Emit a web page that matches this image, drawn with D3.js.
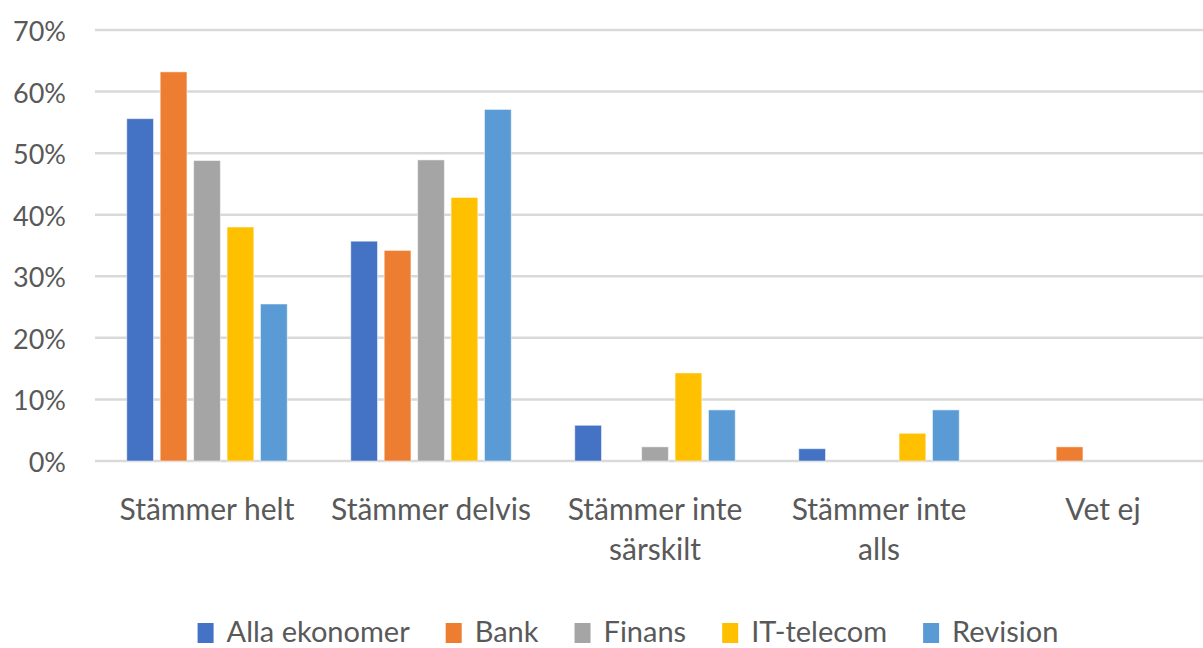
<!DOCTYPE html>
<html>
<head>
<meta charset="utf-8">
<script src="https://cdn.jsdelivr.net/npm/d3@7"></script>
<style>
  html, body { margin: 0; padding: 0; background: #fff; }
  svg { display: block; font-family: Lato, "Open Sans", sans-serif; }
</style>
</head>
<body>
<svg id="chart"></svg>
<script>
// Categories, series and values
const categories = [['Stämmer helt'], ['Stämmer delvis'], ['Stämmer inte', 'särskilt'], ['Stämmer inte', 'alls'], ['Vet ej']];
const seriesNames = ['Alla ekonomer', 'Bank', 'Finans', 'IT-telecom', 'Revision'];
const allaEkonomer = [0.556, 0.357, 0.058, 0.020, 0];
const bank = [0.632, 0.342, 0, 0, 0.023];
const finans = [0.488, 0.489, 0.023, 0, 0];
const itTelecom = [0.380, 0.428, 0.143, 0.045, 0];
const revision = [0.255, 0.571, 0.083, 0.083, 0];
const yTicks = [0, 0.1, 0.2, 0.3, 0.4, 0.5, 0.6, 0.7];

const seriesValues = [allaEkonomer, bank, finans, itTelecom, revision];
const colors = ['#4472C4', '#ED7D31', '#A5A5A5', '#FFC000', '#5B9BD5'];

const WIDTH = 1203, HEIGHT = 648;
const margin = { left: 95, right: -12, top: 30, bottom: 187 };

const svg = d3.select('#chart')
  .attr('width', WIDTH)
  .attr('height', HEIGHT);

const x0 = d3.scaleBand()
  .domain(categories.map((d, i) => i))
  .range([margin.left, WIDTH - margin.right])
  .paddingInner(0)
  .paddingOuter(0);

const x1 = d3.scaleBand()
  .domain(seriesNames)
  .range([0, x0.bandwidth()])
  .paddingInner(0.2)
  .paddingOuter(0.95);

const y = d3.scaleLinear()
  .domain([0, 0.7])
  .range([HEIGHT - margin.bottom, margin.top]);

// Gridlines
svg.append('g')
  .selectAll('line')
  .data(yTicks)
  .enter().append('line')
  .attr('x1', margin.left)
  .attr('x2', WIDTH)
  .attr('y1', d => y(d))
  .attr('y2', d => y(d))
  .attr('stroke', '#d9d9d9')
  .attr('stroke-width', 2.5);

// Y axis labels
svg.append('g')
  .selectAll('text')
  .data(yTicks)
  .enter().append('text')
  .attr('x', 66)
  .attr('y', d => y(d) + 11)
  .attr('text-anchor', 'end')
  .attr('font-size', '27px')
  .attr('fill', '#595959')
  .text(d => d3.format('.0%')(d));

// Bars
const group = svg.append('g')
  .selectAll('g')
  .data(categories.map((c, i) => i))
  .enter().append('g')
  .attr('transform', i => `translate(${x0(i)},0)`);

group.selectAll('rect')
  .data(i => seriesNames.map((s, k) => ({ s, k, v: seriesValues[k][i] })).filter(d => d.v > 0))
  .enter().append('rect')
  .attr('x', d => x1(d.s))
  .attr('y', d => y(d.v))
  .attr('width', x1.bandwidth())
  .attr('height', d => y(0) - y(d.v))
  .attr('fill', d => colors[d.k])
  .attr('stroke', '#fff')
  .attr('stroke-opacity', 0.5)
  .attr('stroke-width', 1);

// Category labels
svg.append('g')
  .selectAll('text')
  .data(categories.map((c, i) => i))
  .enter().append('text')
  .attr('text-anchor', 'middle')
  .attr('font-size', '30px')
  .attr('fill', '#595959')
  .selectAll('tspan')
  .data(i => categories[i].map(line => ({ i, line })))
  .enter().append('tspan')
  .attr('x', d => x0(d.i) + x0.bandwidth() / 2)
  .attr('y', (d, j) => 520 + j * 40)
  .text(d => d.line);

// Legend
const legend = svg.append('g').attr('id', 'legend');
const items = legend.selectAll('g')
  .data(seriesNames)
  .enter().append('g');

items.append('rect')
  .attr('y', 623)
  .attr('width', 16)
  .attr('height', 20)
  .attr('fill', (d, i) => colors[i]);

items.append('text')
  .attr('x', 29)
  .attr('y', 642)
  .attr('font-size', '29px')
  .attr('fill', '#595959')
  .text(d => d);

const widths = [];
items.each(function () {
  widths.push(29 + this.querySelector('text').getComputedTextLength());
});
const gap = 36;
const total = d3.sum(widths) + gap * (widths.length - 1);
let offset = 628 - total / 2;
items.attr('transform', (d, i) => {
  const t = `translate(${offset},0)`;
  offset += widths[i] + gap;
  return t;
});
</script>
</body>
</html>
